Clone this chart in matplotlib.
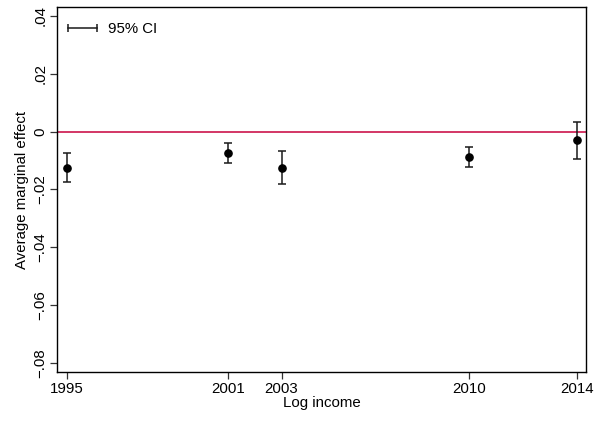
import matplotlib
matplotlib.use("Agg")
import matplotlib.pyplot as plt
from matplotlib.ticker import FixedLocator, FixedFormatter
from matplotlib.lines import Line2D

plt.rcParams['font.family'] = ['Liberation Sans', 'DejaVu Sans']

years = [1995, 2001, 2003, 2010, 2014]
ame = [-0.0126, -0.0074, -0.0125, -0.0088, -0.0029]
ci_low = [-0.0176, -0.0110, -0.0183, -0.0123, -0.0094]
ci_high = [-0.0075, -0.0038, -0.0067, -0.0052, 0.0034]

y_ticks = [-0.08, -0.06, -0.04, -0.02, 0.0, 0.02, 0.04]
y_labels = ["\u2212.08", "\u2212.06", "\u2212.04", "\u2212.02", "0", ".02", ".04"]

FS = 10.8

fig = plt.figure(figsize=(6.05, 4.23), dpi=100)
ax = fig.add_axes([57 / 605, 1 - 372 / 423, (586 - 57) / 605, (372 - 7) / 423])

ax.axhline(0, color="#c8003c", lw=1.1, zorder=1)

yerr = [[m - lo for m, lo in zip(ame, ci_low)], [hi - m for m, hi in zip(ame, ci_high)]]
ax.errorbar(years, ame, yerr=yerr, fmt="o", color="black", ms=5.2,
            ecolor="#1a1a1a", elinewidth=1.1, capsize=3, capthick=1.1,
            zorder=3)

ax.set_xlim(1994.63, 2014.35)
ax.set_ylim(-0.0832, 0.0431)

ax.xaxis.set_major_locator(FixedLocator(years))
ax.set_xticklabels([str(y) for y in years], fontsize=FS)
ax.yaxis.set_major_locator(FixedLocator(y_ticks))
ax.yaxis.set_major_formatter(FixedFormatter(y_labels))
for lbl in ax.get_yticklabels():
    lbl.set_rotation(90)
    lbl.set_va("center")
    lbl.set_fontsize(FS)

ax.tick_params(direction="out", length=5, width=0.9, color="#333333", pad=2)
for s in ax.spines.values():
    s.set_linewidth(1.0)
    s.set_color("black")

ax.set_xlabel("Log income", fontsize=FS, labelpad=0)
ax.set_ylabel("Average marginal effect", fontsize=FS, labelpad=3)

# Legend key: horizontal bar with caps at both ends
handle = Line2D([], [], color="#1a1a1a", lw=1.1, marker="|", markersize=6,
                markeredgewidth=1.1)
ax.legend([handle], ["95% CI"], loc="center left",
          bbox_to_anchor=(6.5 / 529, (372 - 29) / 365), frameon=False,
          fontsize=FS, numpoints=2, handlelength=2.55, borderpad=0,
          borderaxespad=0, handletextpad=0.45)

fig.savefig("out.png", dpi=100)
